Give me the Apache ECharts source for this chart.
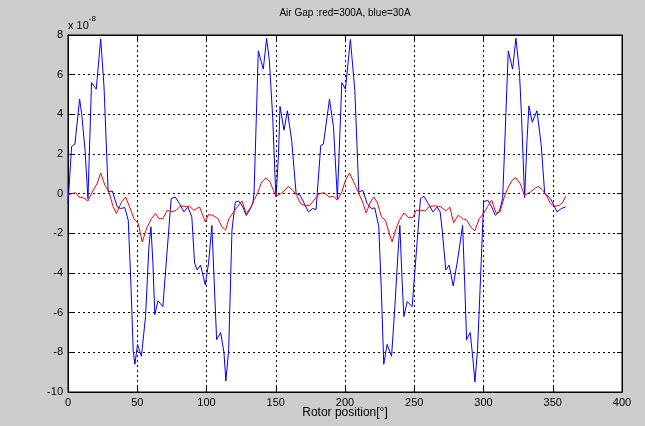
<!DOCTYPE html>
<html>
<head>
<meta charset="utf-8">
<script src="https://cdn.jsdelivr.net/npm/echarts@6/dist/echarts.min.js"></script>
<style>
html,body{margin:0;padding:0;background:#cccccc;}
#chart{width:645px;height:426px;}
</style>
</head>
<body>
<div id="chart"></div>
<script>
// Blue series (30A), values in units of 1e-8
var blueX = [0,2.6,5,8.4,9.9,12.3,14.4,17,20.4,23.6,26,29,32,35.6,38,41,43.5,45.4,47.1,48.3,50.2,53,56,58.4,59.9,61.3,62.7,65,68.5,70.9,74.5,77.4,80.5,83.7,86.5,89.4,91.4,93.3,95.7,99.1,101.5,103.9,105.3,107.3,110.2,112.6,114,116,118.4,120.8,123.2,126.3,128.7,131.1,133.5,134.3,135.7,137.4,141,143.4,145.4,147.8,149.5,150.2,151.9,153.1,156,158.4,161.5,164.7,167.6,170.4,173.6,176.7,179.1,182.5,184.4,188.8,191.7,194.5,197.7,200.3,203.9,207.1,210,212.8,216,219.1,221.5,224.4,226.3,228,230.4,233.6,236,238.4,239.6,241.3,242.5,244.9,248.5,250.9,254.5,257,260.1,263.5,266.5,268.7,270.4,272.8,275.2,278.1,281.3,284.9,286.1,287.8,290.4,292.4,293.8,295.7,298.1,300.1,303,305.9,308.5,311.4,313.8,315,316.2,317.9,321,323.4,325.9,327.5,329,329.7,331.4,332.8,335.2,338.6,341.7,344.2,345.8,348.3,350.2,353.1,356.2,359.3];
var blueY = [-0.5,2.38,2.5,4.77,4.0,2.2,-0.25,5.6,5.27,7.8,5.4,0.1,0.13,-0.67,-0.75,-0.7,-1.34,-4.5,-7.95,-8.6,-7.6,-8.2,-6.2,-2.7,-1.67,-3.5,-6.1,-5.4,-5.7,-3.5,-0.25,-0.17,-0.5,-0.92,-0.67,-1.17,-3.5,-3.85,-3.6,-4.6,-3.5,-1.6,-4.0,-7.36,-7.0,-8.0,-9.45,-7.87,-1.84,-0.42,-0.37,-0.67,-1.1,-0.84,-0.47,0,3.2,7.2,6.28,7.83,6.7,3.85,0.84,-0.17,1.84,4.4,3.2,4.18,2.68,0,-0.08,-0.47,-0.92,-0.75,-0.8,2.43,2.5,4.77,3.35,-0.25,5.6,5.27,7.78,5.2,0.08,0.17,-0.5,-0.75,-0.72,-1.67,-5.0,-8.6,-7.6,-8.2,-5.7,-2.85,-1.6,-4.5,-6.2,-5.44,-5.7,-3.5,-0.25,-0.13,-0.5,-0.92,-0.67,-0.92,-2.0,-3.85,-3.6,-4.65,-3.35,-1.6,-3.85,-7.36,-7.0,-8.37,-9.5,-7.87,-3.85,-0.42,-0.33,-0.67,-1.09,-0.92,-0.25,1.84,4.1,7.2,6.28,7.83,6.2,3.85,1.0,-0.2,2.68,4.43,3.6,4.18,2.43,0,-0.08,-0.25,-0.5,-0.92,-0.75,-0.67];

// Red series (300A)
var redX = [0,2.6,5.5,7.9,11.5,14.4,17.5,21.2,23.6,26.7,29.6,32.5,34.9,38.7,41.6,44.5,47.6,50.7,53.6,57.2,60.3,63.2,65.6,68.5,71.6,75,78.1,81.2,84.6,87.8,90.9,95,99.1,101.5,104.6,108.2,111.1,113.8,116.2,119.1,122.2,125.6,128.7,131.9,134.5,136.7,139.8,143,145.9,148.3,150.2,153.6,156,159.1,162.2,165.1,168,171.2,174.8,178.4,181.5,184.9,188.5,191.7,194.5,197.7,200.3,203.2,206.3,209.5,212.4,215.3,218.4,220.8,223.2,226.3,229.2,231.6,234,236.9,239.3,242.5,245.6,249,251.4,254.5,257.7,261,264.4,268.7,272.8,275.7,278.4,281.8,284.9,288,290.9,293.8,296.9,300.1,303,305.9,309,311.9,315,317.9,321,323.4,326.6,329.5,333.8,336.9,339.3,342.5,345.4,348.3,351.4,355,357.4,359.3];
var redY = [-0.08,0,0.05,-0.17,-0.22,-0.37,0.08,0.54,1.04,0.42,0.08,-0.64,-1.0,-0.42,-0.17,-0.67,-1.26,-1.5,-2.43,-1.67,-1.26,-1.0,-1.26,-1.26,-0.84,-0.92,-0.84,-0.62,-0.64,-0.64,-0.84,-0.67,-1.42,-1.05,-1.09,-1.26,-1.67,-1.84,-1.26,-0.97,-0.67,-0.37,-1.0,-0.7,-0.3,0,0.58,0.8,0.58,0.17,-0.13,0,0.13,0.37,0.17,-0.08,-0.5,-0.62,-0.58,-0.25,0,0.05,-0.17,-0.13,-0.33,0.08,0.67,1.04,0.58,0.08,-0.37,-0.97,-0.42,-0.17,-0.42,-1.17,-1.34,-1.92,-2.43,-1.76,-1.34,-0.97,-1.2,-1.2,-0.84,-0.84,-0.87,-0.64,-0.62,-0.64,-0.87,-0.67,-1.47,-1.09,-1.26,-1.34,-1.7,-1.87,-1.26,-1.0,-0.64,-0.33,-0.97,-0.92,-0.17,0.33,0.7,0.8,0.5,-0.08,0.08,0.25,0.37,0.2,-0.08,-0.5,-0.64,-0.58,-0.42,-0.13];

var titleText = 'Air Gap :red=300A, blue=30A';
var xLabel = 'Rotor position[°]';

function pairs(xs, ys){ return xs.map(function(x,i){ return [x, ys[i]]; }); }

var chart = echarts.init(document.getElementById('chart'));
var FONT = 'Liberation Sans, Arial, sans-serif';
var gridDash = {color:'#000', width:1, type:[2,3]};
var xCommon = {type:'value', min:0, max:400, interval:50};
var yCommon = {type:'value', min:-10, max:8, interval:2};

chart.setOption({
  backgroundColor:'#cccccc',
  animation:false,
  grid:{left:68, top:35, right:23, bottom:34, show:true, backgroundColor:'#ffffff', borderColor:'#000', borderWidth:1},
  xAxis:[
    Object.assign({}, xCommon, {position:'bottom',
      axisLine:{show:true, onZero:false, lineStyle:{color:'#000'}},
      axisTick:{inside:true, length:5, lineStyle:{color:'#000'}},
      axisLabel:{color:'#000', fontSize:11, fontFamily:FONT, margin:5},
      splitLine:{show:true, lineStyle:gridDash}}),
    Object.assign({}, xCommon, {position:'top',
      axisLine:{show:true, onZero:false, lineStyle:{color:'#000'}},
      axisTick:{inside:true, length:5, lineStyle:{color:'#000'}},
      axisLabel:{show:false}, splitLine:{show:false}})
  ],
  yAxis:[
    Object.assign({}, yCommon, {position:'left',
      axisLine:{show:true, onZero:false, lineStyle:{color:'#000'}},
      axisTick:{inside:true, length:5, lineStyle:{color:'#000'}},
      axisLabel:{color:'#000', fontSize:11, fontFamily:FONT, margin:5},
      splitLine:{show:true, lineStyle:gridDash}}),
    Object.assign({}, yCommon, {position:'right',
      axisLine:{show:true, onZero:false, lineStyle:{color:'#000'}},
      axisTick:{inside:true, length:5, lineStyle:{color:'#000'}},
      axisLabel:{show:false}, splitLine:{show:false}})
  ],
  graphic:[
    {type:'text', x:345, y:13, silent:true, style:{text:titleText, fill:'#000', font:'10px '+FONT, textAlign:'center', textVerticalAlign:'middle'}},
    {type:'text', left:68, top:15, silent:true, style:{
      text:'{a|x 10}{b|-8}', fill:'#000',
      rich:{a:{fontSize:11, fontFamily:FONT, fill:'#000', verticalAlign:'bottom'}, b:{fontSize:8, fontFamily:FONT, fill:'#000', padding:[0,0,8,0]}}
    }},
    {type:'text', x:345, y:413, silent:true, style:{text:xLabel, fill:'#000', font:'12px '+FONT, textAlign:'center', textVerticalAlign:'middle'}}
  ],
  series:[
    {type:'line', xAxisIndex:0, yAxisIndex:0, data:pairs(blueX, blueY), showSymbol:false, symbol:'none',
      lineStyle:{color:'#0000ff', width:1}, itemStyle:{color:'#0000ff'}},
    {type:'line', xAxisIndex:0, yAxisIndex:0, data:pairs(redX, redY), showSymbol:false, symbol:'none',
      lineStyle:{color:'#ff0000', width:1}, itemStyle:{color:'#ff0000'}}
  ]
});
</script>
</body>
</html>
